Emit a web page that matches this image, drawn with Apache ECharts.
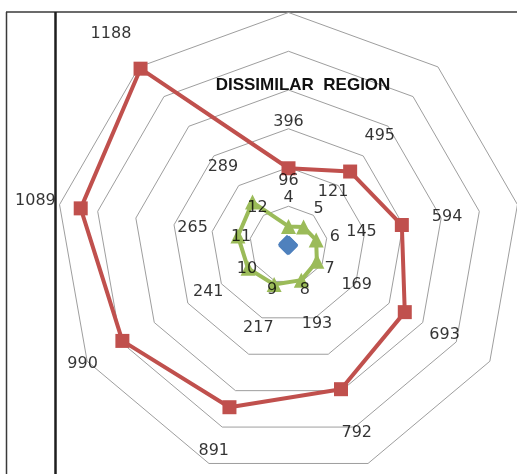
<!DOCTYPE html>
<html>
<head>
<meta charset="utf-8">
<script src="https://cdn.jsdelivr.net/npm/echarts@6/dist/echarts.min.js"></script>
<style>
  html, body { margin: 0; padding: 0; background: #ffffff; }
  #chart { width: 517px; height: 474px; }
</style>
</head>
<body>
<div id="chart"></div>
<script>
// Nine spokes, listed clockwise from the top
const spokes = ['S1', 'S2', 'S3', 'S4', 'S5', 'S6', 'S7', 'S8', 'S9'];

// Series values, one per spoke (clockwise from the top)
const blueValues  = [4, 5, 6, 7, 8, 9, 10, 11, 12];
const redValues   = [396, 495, 594, 693, 792, 891, 990, 1089, 1188];
const greenValues = [96, 121, 145, 169, 193, 217, 241, 265, 289];

// Radial scale
const radialMin = 0;
const radialMax = 1200;
const radialRings = 6;

const titleText = 'DISSIMILAR  REGION';

// Layout / style
const CX = 288.5, CY = 245, R = 232.5;
const LABEL_GAP = 46;
const LABEL_FONT = 'DejaVu Sans';
const COLORS = { blue: '#4F81BD', red: '#C0504D', green: '#9BBB59' };

// ECharts radar indicators run counter-clockwise, so feed them in reverse
// (keeping the first one at the top) to get a clockwise layout.
const n = spokes.length;
const order = [0].concat(spokes.map((_, i) => n - 1 - i).slice(0, n - 1));
const reorder = arr => order.map(k => arr[k]);

// Value labels: drawn on a polar system laid exactly over the radar,
// each pushed outward along its spoke.
const step = 360 / n;
function labelData(values) {
  return values.map((v, i) => {
    const a = i * step * Math.PI / 180;
    return {
      value: [v, i * step],
      label: { offset: [LABEL_GAP * Math.sin(a), -LABEL_GAP * Math.cos(a)] }
    };
  });
}
function labelSeries(values, name) {
  return {
    name: name + ' labels',
    type: 'scatter',
    coordinateSystem: 'polar',
    symbolSize: 0,
    silent: true,
    z: 10,
    itemStyle: { color: 'transparent' },
    label: {
      show: true,
      position: 'inside',
      formatter: p => String(p.value[0]),
      color: '#000000',
      fontFamily: LABEL_FONT,
      fontSize: 16
    },
    data: labelData(values)
  };
}

const chart = echarts.init(document.getElementById('chart'), null, { renderer: 'canvas' });

chart.setOption({
  animation: false,
  backgroundColor: '#ffffff',
  title: {
    text: titleText,
    left: 298,
    top: 72,
    textAlign: 'center',
    textStyle: {
      fontFamily: 'Liberation Sans',
      fontWeight: 'bold',
      fontSize: 17,
      color: '#111111'
    }
  },
  radar: {
    center: [CX, CY],
    radius: R,
    startAngle: 90,
    shape: 'polygon',
    splitNumber: radialRings,
    indicator: order.map(k => ({ name: spokes[k], min: radialMin, max: radialMax })),
    axisName: { show: false },
    axisLine: { show: false },
    axisTick: { show: false },
    axisLabel: { show: false },
    splitArea: { show: false },
    splitLine: { lineStyle: { color: '#9e9e9e', width: 1 } }
  },
  polar: { center: [CX, CY], radius: R },
  angleAxis: {
    type: 'value', min: 0, max: 360, startAngle: 90, clockwise: true,
    show: false, splitLine: { show: false }
  },
  radiusAxis: {
    type: 'value', min: radialMin, max: radialMax,
    show: false, splitLine: { show: false }
  },
  graphic: [
    { type: 'line', shape: { x1: 6, y1: 12, x2: 517, y2: 12 }, style: { stroke: '#3a3a3a', lineWidth: 1.5 } },
    { type: 'line', shape: { x1: 6.5, y1: 12, x2: 6.5, y2: 474 }, style: { stroke: '#3a3a3a', lineWidth: 1.5 } },
    { type: 'line', shape: { x1: 55.5, y1: 12, x2: 55.5, y2: 474 }, style: { stroke: '#1e1e1e', lineWidth: 2.5 } }
  ],
  series: [
    {
      name: 'Blue', type: 'radar', z: 3,
      symbol: 'diamond', symbolSize: 17,
      itemStyle: { color: COLORS.blue },
      lineStyle: { color: COLORS.blue, width: 3 },
      data: [{ value: reorder(blueValues) }]
    },
    {
      name: 'Red', type: 'radar', z: 4,
      symbol: 'rect', symbolSize: 14,
      itemStyle: { color: COLORS.red },
      lineStyle: { color: COLORS.red, width: 4 },
      data: [{ value: reorder(redValues) }]
    },
    {
      name: 'Green', type: 'radar', z: 5,
      symbol: 'triangle', symbolSize: 15,
      itemStyle: { color: COLORS.green },
      lineStyle: { color: COLORS.green, width: 4 },
      data: [{ value: reorder(greenValues) }]
    },
    labelSeries(blueValues, 'Blue'),
    labelSeries(redValues, 'Red'),
    labelSeries(greenValues, 'Green')
  ]
});
</script>
</body>
</html>
